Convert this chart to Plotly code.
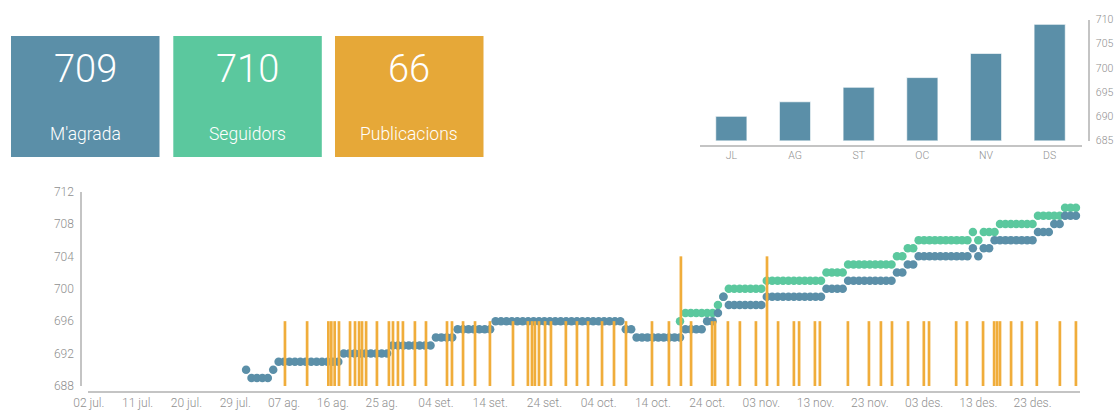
import plotly.graph_objects as go
import pandas as pd

# ---------------- data ----------------
summary_values = [709, 710, 66]
summary_labels = ["M'agrada", "Seguidors", "Publicacions"]
summary_colors = ["#5B8FA8", "#5BC89E", "#E6A838"]

months = ["JL", "AG", "ST", "OC", "NV", "DS"]
monthly_likes = [690, 693, 696, 698, 703, 709]

likes_start = "2016-07-31"
likes = [
    690,
    689, 689, 689, 689,
    690,
    691, 691, 691, 691, 691, 691, 691, 691, 691, 691, 691, 691,
    692, 692, 692, 692, 692, 692, 692, 692, 692,
    693, 693, 693, 693, 693, 693, 693, 693,
    694, 694, 694, 694,
    695, 695, 695, 695, 695, 695, 695,
    696, 696, 696, 696, 696, 696, 696, 696, 696, 696, 696, 696,
    696, 696, 696, 696, 696, 696, 696, 696, 696, 696, 696, 696,
    695, 695,
    694, 694, 694, 694, 694, 694, 694, 694, 694,
    695, 695, 695, 695,
    696, 696,
    697,
    699,
    698, 698, 698, 698, 698, 698, 698,
    699, 699, 699, 699, 699, 699, 699, 699, 699, 699, 699,
    700, 700, 700, 700,
    701, 701, 701, 701, 701, 701, 701, 701, 701,
    702, 702,
    703, 703,
    704, 704, 704, 704, 704, 704, 704, 704, 704, 704,
    705,
    704,
    705, 705,
    706, 706, 706, 706, 706, 706, 706, 706,
    707, 707, 707,
    708, 708,
    709, 709, 709,
]

followers_start = "2016-10-19"
followers = [
    696,
    697, 697, 697, 697, 697, 697,
    698,
    699,
    700, 700, 700, 700, 700, 700, 700,
    701, 701, 701, 701, 701, 701, 701, 701, 701, 701, 701,
    702, 702, 702, 702,
    703, 703, 703, 703, 703, 703, 703, 703, 703,
    704, 704,
    705, 705,
    706, 706, 706, 706, 706, 706, 706, 706, 706, 706,
    707,
    706,
    707, 707, 707,
    708, 708, 708, 708, 708, 708, 708,
    709, 709, 709, 709, 709,
    710, 710, 710,
]

post_times = [
    "2016-08-07 04:00", "2016-08-11 06:00", "2016-08-15 04:00", "2016-08-15 17:00",
    "2016-08-16 08:00", "2016-08-17 03:00", "2016-08-19 04:00", "2016-08-20 02:00",
    "2016-08-20 20:00", "2016-08-21 09:00", "2016-08-22 03:00", "2016-08-24 03:00",
    "2016-08-26 08:00", "2016-08-27 02:00", "2016-08-28 00:00", "2016-08-28 22:00",
    "2016-08-31 03:00", "2016-09-02 04:00", "2016-09-06 01:00", "2016-09-06 23:00",
    "2016-09-09 00:00", "2016-09-11 05:00", "2016-09-13 23:00", "2016-09-18 05:00",
    "2016-09-20 23:00", "2016-09-21 17:00", "2016-09-22 06:00", "2016-09-23 00:00",
    "2016-09-24 03:00", "2016-09-25 05:00", "2016-09-27 23:00", "2016-09-30 00:00",
    "2016-10-02 01:00", "2016-10-04 15:00", "2016-10-06 20:00", "2016-10-09 01:00",
    "2016-10-13 20:00", "2016-10-16 23:00", "2016-10-19 04:00", "2016-10-21 01:00",
    "2016-10-24 22:00", "2016-10-25 11:00", "2016-10-27 20:00", "2016-10-30 01:00",
    "2016-11-02 00:00", "2016-11-04 01:00", "2016-11-06 02:00", "2016-11-09 00:00",
    "2016-11-09 23:00", "2016-11-12 21:00", "2016-11-13 19:00", "2016-11-18 23:00",
    "2016-11-22 20:00", "2016-11-25 01:00", "2016-11-27 02:00", "2016-11-30 01:00",
    "2016-12-02 23:00", "2016-12-03 22:00", "2016-12-08 22:00", "2016-12-10 22:00",
    "2016-12-13 21:00", "2016-12-15 22:00", "2016-12-16 11:00", "2016-12-17 00:00",
    "2016-12-19 01:00", "2016-12-21 01:00", "2016-12-23 19:00", "2016-12-28 01:00",
    "2016-12-31 00:00",
]
post_counts = [
    1, 1, 1, 1, 1, 1, 1, 1, 1, 1, 1, 1, 1, 1, 1, 1,
    1, 1, 1, 1, 1, 1, 1, 1, 1, 1, 1, 1, 1, 1, 1, 1,
    1, 1, 1, 1, 1, 1, 2, 1, 1, 1, 1, 1, 1, 2, 1, 1,
    1, 1, 1, 1, 1, 1, 1, 1, 1, 1, 1, 1, 1, 1, 1, 1,
    1, 1, 1, 1, 1,
]

tick_dates = ["2016-07-02", "2016-07-11", "2016-07-20", "2016-07-29", "2016-08-07",
              "2016-08-16", "2016-08-25", "2016-09-04", "2016-09-14", "2016-09-24",
              "2016-10-04", "2016-10-14", "2016-10-24", "2016-11-03", "2016-11-13",
              "2016-11-23", "2016-12-03", "2016-12-13", "2016-12-23"]
tick_labels = ["02 jul.", "11 jul.", "20 jul.", "29 jul.", "07 ag.", "16 ag.", "25 ag.",
               "04 set.", "14 set.", "24 set.", "04 oct.", "14 oct.", "24 oct.",
               "03 nov.", "13 nov.", "23 nov.", "03 des.", "13 des.", "23 des."]

# ---------------- styling helpers ----------------
BLUE = "#5B8FA8"
GREEN = "#5BC89E"
ORANGE = "#F0AD3B"
GRAY_TXT = "#8f8f8f"
AXIS_LINE = "#c4c4c4"
FONT = "Roboto, Liberation Sans, Arial, sans-serif"

W, H = 1116, 410


def px(x):
    return x / W


def py(y):
    return 1 - y / H


likes_dates = pd.date_range(likes_start, periods=len(likes), freq="D")
followers_dates = pd.date_range(followers_start, periods=len(followers), freq="D")

fig = go.Figure()

# followers (green) then likes (blue) so blue sits on top
fig.add_trace(go.Scatter(
    x=followers_dates, y=followers, mode="markers",
    marker=dict(size=8.5, color=GREEN, line=dict(width=0)),
    xaxis="x", yaxis="y", hoverinfo="x+y", cliponaxis=False,
))
fig.add_trace(go.Scatter(
    x=likes_dates, y=likes, mode="markers",
    marker=dict(size=8.5, color=BLUE, line=dict(width=0)),
    xaxis="x", yaxis="y", hoverinfo="x+y", cliponaxis=False,
))
# publications (orange bars)
fig.add_trace(go.Bar(
    x=pd.to_datetime(post_times), y=post_counts,
    width=[0.5 * 86400000] * len(post_times),
    marker=dict(color=ORANGE, line=dict(width=0)),
    xaxis="x", yaxis="y2",
))
# monthly bar chart
fig.add_trace(go.Bar(
    x=months, y=monthly_likes, width=0.49,
    marker=dict(color=BLUE, line=dict(color="rgba(255,255,255,0.7)", width=1)),
    xaxis="x3", yaxis="y3",
))

# ---------------- summary boxes ----------------
box_x0 = [11, 173.3, 335]
box_w = 148.5
shapes = []
annotations = []
for i, (val, lab, col) in enumerate(zip(summary_values, summary_labels, summary_colors)):
    x0 = box_x0[i]
    x1 = x0 + box_w
    shapes.append(dict(type="rect", xref="paper", yref="paper",
                       x0=px(x0), x1=px(x1), y0=py(157), y1=py(36),
                       fillcolor=col, line=dict(width=0), layer="below"))
    annotations.append(dict(xref="paper", yref="paper", x=px((x0 + x1) / 2), y=py(69),
                            text=str(val), showarrow=False, xanchor="center", yanchor="middle",
                            font=dict(family=FONT, size=38, color="white", weight=300)))
    annotations.append(dict(xref="paper", yref="paper", x=px((x0 + x1) / 2), y=py(134),
                            text=lab, showarrow=False, xanchor="center", yanchor="middle",
                            font=dict(family=FONT, size=17.5, color="white", weight=300)))

tickfont = dict(family=FONT, size=12, color=GRAY_TXT, weight=300)
smallfont = dict(family=FONT, size=10.5, color=GRAY_TXT, weight=300)

x_start_px = 88.35
x_end_px = 1080.0

fig.update_layout(
    width=W, height=H,
    margin=dict(l=0, r=0, t=0, b=0, pad=0, autoexpand=False),
    paper_bgcolor="white", plot_bgcolor="rgba(0,0,0,0)",
    showlegend=False,
    barmode="overlay",
    shapes=shapes,
    annotations=annotations,
    xaxis=dict(
        type="date", domain=[px(x_start_px), px(x_end_px)],
        range=["2016-07-01 22:00", "2016-12-31 18:00"],
        anchor="free", position=py(392),
        showline=True, linecolor=AXIS_LINE, linewidth=1.5,
        showgrid=False, zeroline=False, ticks="", automargin=False,
        tickmode="array", tickvals=tick_dates, ticktext=tick_labels,
        tickfont=tickfont, fixedrange=True,
    ),
    yaxis=dict(
        domain=[py(386), py(191.5)], range=[688, 712],
        anchor="free", position=px(81),
        showline=True, linecolor=AXIS_LINE, linewidth=1.5,
        showgrid=False, zeroline=False, ticks="", automargin=False,
        tickmode="linear", tick0=688, dtick=4,
        tickfont=tickfont, ticklabelstandoff=4, fixedrange=True,
    ),
    yaxis2=dict(overlaying="y", anchor="x", range=[0, 3], visible=False, fixedrange=True),
    xaxis3=dict(
        type="category", domain=[px(699.5), px(1081.5)],
        anchor="free", position=py(145.7),
        showline=True, linecolor=AXIS_LINE, linewidth=1.5,
        showgrid=False, zeroline=False, ticks="", automargin=False,
        tickfont=smallfont, fixedrange=True,
    ),
    yaxis3=dict(
        domain=[py(140.5), py(19.5)], range=[685, 710],
        anchor="free", position=px(1089), side="right",
        showline=True, linecolor=AXIS_LINE, linewidth=1.5,
        showgrid=False, zeroline=False, ticks="", automargin=False,
        tickmode="linear", tick0=685, dtick=5,
        tickfont=smallfont, ticklabelstandoff=4, fixedrange=True,
    ),
)

fig.write_html(
    "out.html",
    config={"displayModeBar": False},
    post_script="document.body.style.margin='0';"
                "document.documentElement.style.overflow='hidden';"
                "document.body.style.overflow='hidden';",
)
